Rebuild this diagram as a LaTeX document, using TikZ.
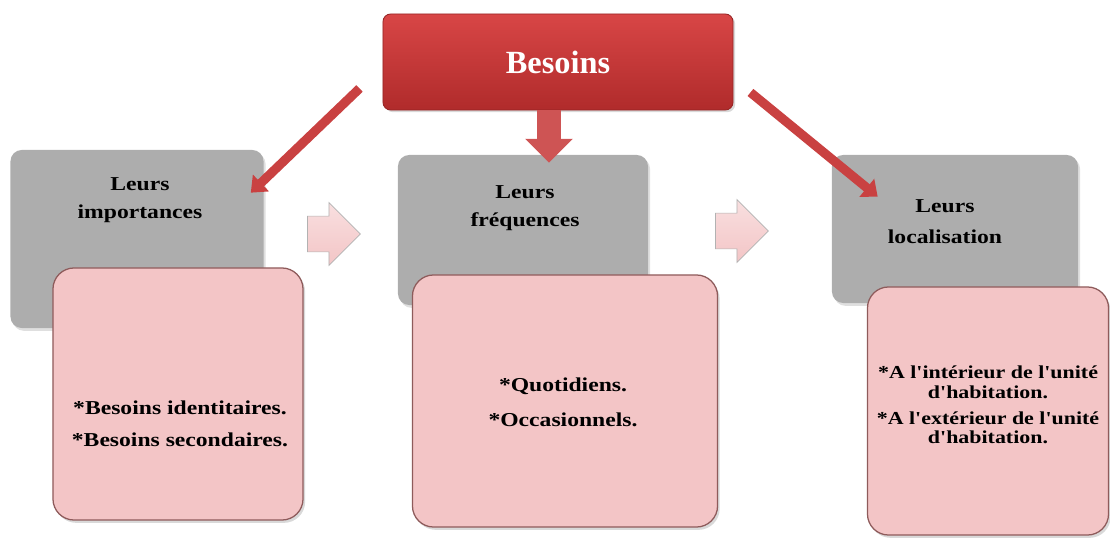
\documentclass[tikz,border=0pt]{standalone}
\usepackage{fontspec}
\setmainfont{Liberation Serif}
\newfontfamily\wideserif[FakeStretch=1.2]{Liberation Serif}
\usetikzlibrary{shapes.arrows,arrows.meta,shadows}

\definecolor{headred}{HTML}{D84646}
\definecolor{headdark}{HTML}{B02B2B}
\definecolor{boxgray}{HTML}{ADADAD}
\definecolor{boxpink}{HTML}{F3C5C6}
\definecolor{pinkedge}{HTML}{8E5B5B}
\definecolor{arrowred}{HTML}{C94141}

\begin{document}
\begin{tikzpicture}[x=0.025cm, y=-0.025cm,
  headbox/.style={draw=headdark!85!black, line width=0.6pt, rounded corners=5.5pt,
    top color=headred, bottom color=headdark, text=white, inner sep=0pt,
    font=\bfseries\fontsize{23}{26}\selectfont,
    drop shadow={opacity=0.3, shadow xshift=1.5pt, shadow yshift=-1.5pt}},
  graybox/.style={fill=boxgray, rounded corners=8pt, inner sep=0pt,
    drop shadow={opacity=0.25, shadow xshift=1.5pt, shadow yshift=-2pt}},
  pinkbox/.style={draw=pinkedge, line width=0.9pt, fill=boxpink, rounded corners=15pt,
    inner sep=0pt, drop shadow={opacity=0.3, shadow xshift=1.5pt, shadow yshift=-2pt}},
  graytext/.style={align=center, inner sep=0pt,
    font=\wideserif\bfseries\fontsize{14}{20}\selectfont},
  pinktext/.style={align=center, inner sep=0pt,
    font=\wideserif\bfseries\fontsize{14}{17}\selectfont},
  nextarrow/.style={single arrow, draw=gray!60, line width=0.5pt,
    top color=boxpink!55!white, bottom color=boxpink,
    inner xsep=0pt, inner ysep=0.4375cm, minimum height=1.325cm,
    single arrow head extend=0.34cm},
  redarrow/.style={arrowred, line width=6.5pt, -{Triangle[width=16pt,length=10pt]}},
]
\useasboundingbox (0,0) rectangle (1110,538);

% top box
\node[headbox, minimum width=8.75cm, minimum height=2.4cm] (besoins) at (558,62) {Besoins};

% gray title boxes
\node[graybox, minimum width=6.325cm, minimum height=4.45cm] (imp) at (137,239) {};
\node[graybox, minimum width=6.25cm, minimum height=3.75cm] (freq) at (523,230) {};
\node[graybox, minimum width=6.15cm, minimum height=3.7cm] (loc) at (955,229) {};

\node[graytext] (impT) at (140,200) {Leurs\\importances};
\node[graytext] (freqT) at (525,208) {Leurs\\fréquences};
\node[graytext, font=\wideserif\bfseries\fontsize{14}{22}\selectfont] (locT) at (945,222) {Leurs\\localisation};

% pink detail boxes
\node[pinkbox, minimum width=6.25cm, minimum height=6.3cm] (impD) at (178,394) {};
\node[pinkbox, minimum width=7.625cm, minimum height=6.3cm] (freqD) at (565,401) {};
\node[pinkbox, minimum width=6.025cm, minimum height=6.2cm] (locD) at (988,411) {};

\node[pinktext] (impL) at (180,424) {*Besoins identitaires.\\[6pt]*Besoins secondaires.};
\node[pinktext] (freqL) at (563,402) {*Quotidiens.\\[8pt]*Occasionnels.};
\node[pinktext, font=\wideserif\bfseries\fontsize{13}{14}\selectfont] (locL) at (988,405)
  {*A l'intérieur de l'unité\\d'habitation.\\[4.5pt]*A l'extérieur de l'unité\\d'habitation.};

% pink arrows between columns
\node[nextarrow] (next1) at (325,234) {};
\node[nextarrow] (next2) at (733,231) {};

% red arrows from the top box
\draw[redarrow] ([shift={(-23,-22)}]besoins.south west) -- ([shift={(-13,43)}]imp.north east);
\draw[redarrow] ([shift={(17,-18)}]besoins.south east) -- ([shift={(46,42)}]loc.north west);
\draw[arrowred!90!white, line width=17pt, -{Triangle[width=33pt,length=17pt]}]
  ([shift={(-9,0)}]besoins.south) -- ([shift={(26,8)}]freq.north);

\end{tikzpicture}
\end{document}
